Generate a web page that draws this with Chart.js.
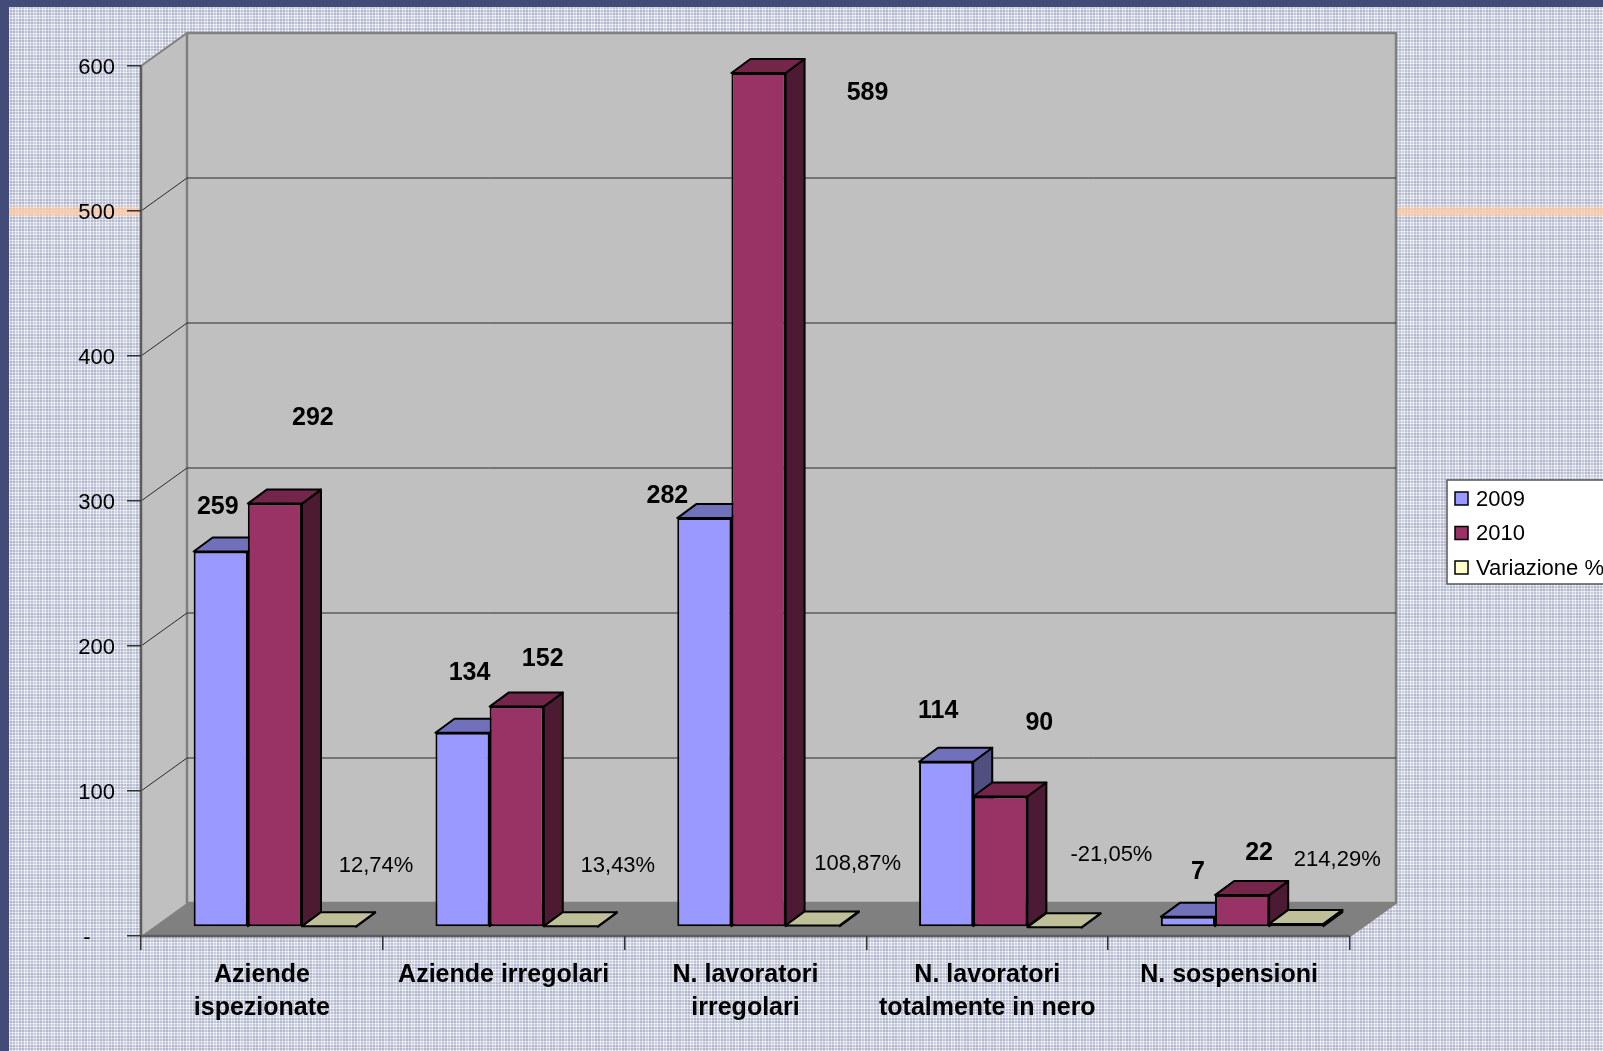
<!DOCTYPE html>
<html>
<head>
<meta charset="utf-8">
<title>Aziende ispezionate</title>
<script src="https://cdn.jsdelivr.net/npm/chart.js@4"></script>
<style>
  html, body { margin: 0; padding: 0; width: 1603px; height: 1051px; overflow: hidden; }
  body {
    position: relative;
    background-color: #fff;
    background-blend-mode: multiply;
    background-image:
      repeating-linear-gradient(90deg, #fff 0 1px, #d6d9e6 1px 3px, #f7f8fb 3px 4px, #d6d9e6 4px 6px, #fff 6px 7px, #e4e6ee 7px 9px),
      repeating-linear-gradient(0deg, #fff 0 1px, #d6d9e6 1px 3px, #f7f8fb 3px 4px, #d6d9e6 4px 6px, #fff 6px 7px, #e4e6ee 7px 9px);
  }
  .band { position: absolute; background: #434b79; }
  #top { left: 0; top: 0; width: 1603px; height: 7px; }
  #left { left: 0; top: 0; width: 9px; height: 1051px; }
  #orange {
    position: absolute; left: 9px; top: 206px; width: 1594px; height: 11px;
    background: linear-gradient(180deg, rgba(255,205,165,.2), rgba(255,205,165,.85) 35%, rgba(255,205,165,.85) 65%, rgba(255,205,165,.2));
  }
  canvas { position: absolute; left: 0; top: 0; }
</style>
</head>
<body>
<div id="orange"></div>
<div class="band" id="top"></div>
<div class="band" id="left"></div>
<canvas id="myChart" width="1603" height="1051"></canvas>
<script>
const categories = [
  ['Aziende', 'ispezionate'],
  'Aziende irregolari',
  ['N. lavoratori', 'irregolari'],
  ['N. lavoratori', 'totalmente in nero'],
  'N. sospensioni'
];
const values2009 = [259, 134, 282, 114, 7];
const values2010 = [292, 152, 589, 90, 22];
const variazione = [0.1274, 0.1343, 1.0887, -0.2105, 2.1429];
const variazioneLabels = ['12,74%', '13,43%', '108,87%', '-21,05%', '214,29%'];
const yTicks = [0, 100, 200, 300, 400, 500, 600];

// spostamento delle etichette rispetto alla cima della barra
const nudges = [
  [[-3, -44], [7, -60], [-37, -22], [-8, -51], [10, -45]],
  [[38, -85], [26, -47], [109, 20], [39, -73], [17, -42]],
  [[47, -61], [47, -61], [45, -61], [57, -72], [41, -64]]
];

const FONT = '"Liberation Sans", Arial, sans-serif';
const WALL = { dx: 46, dy: -33 };   // profondità del pavimento
const BAR = { dx: 19, dy: -14, shiftX: 13, shiftY: -9 };

const colors = [
  { front: '#9999ff', top: '#7070bb', side: '#4f4f80' },
  { front: '#993366', top: '#732649', side: '#4d1a33' },
  { front: '#ffffcc', top: '#bfbf99', side: '#808066' }
];

function poly(ctx, pts, fill, stroke, width) {
  ctx.beginPath();
  pts.forEach((p, i) => i ? ctx.lineTo(p[0], p[1]) : ctx.moveTo(p[0], p[1]));
  ctx.closePath();
  if (fill) { ctx.fillStyle = fill; ctx.fill(); }
  if (stroke) { ctx.strokeStyle = stroke; ctx.lineWidth = width; ctx.lineJoin = 'round'; ctx.stroke(); }
}

// pareti, pavimento e griglia in prospettiva
const walls = {
  id: 'walls',
  beforeDraw(chart) {
    const { ctx, chartArea: a, scales: { y } } = chart;
    const bx = WALL.dx, by = WALL.dy;
    ctx.save();
    poly(ctx, [[a.left, a.top], [a.left + bx, a.top + by], [a.left + bx, a.bottom + by], [a.left, a.bottom]], '#c0c0c0');
    poly(ctx, [[a.left + bx, a.top + by], [a.right + bx, a.top + by], [a.right + bx, a.bottom + by], [a.left + bx, a.bottom + by]], '#c0c0c0', '#808080', 2.5);
    poly(ctx, [[a.left, a.bottom], [a.right, a.bottom], [a.right + bx, a.bottom + by], [a.left + bx, a.bottom + by]], '#808080');
    yTicks.slice(1, -1).forEach(v => {
      const py = y.getPixelForValue(v);
      ctx.strokeStyle = '#2a2a2a';
      ctx.lineWidth = 1;
      ctx.beginPath();
      ctx.moveTo(a.left, py);
      ctx.lineTo(a.left + bx, py + by);
      ctx.lineTo(a.right + bx, py + by);
      ctx.stroke();
    });
    ctx.strokeStyle = '#808080';
    ctx.lineWidth = 2;
    ctx.beginPath();
    ctx.moveTo(a.left, a.top);
    ctx.lineTo(a.left + bx, a.top + by);
    ctx.moveTo(a.right, a.bottom);
    ctx.lineTo(a.right + bx, a.bottom + by);
    ctx.stroke();
    ctx.strokeStyle = '#5c5c5c';
    ctx.lineWidth = 2.5;
    ctx.beginPath();
    ctx.moveTo(a.left, a.top);
    ctx.lineTo(a.left, a.bottom);
    ctx.lineTo(a.right, a.bottom);
    ctx.stroke();
    ctx.restore();
  }
};

// barre 3D: il disegno nativo va fatto categoria per categoria, da sinistra a destra
const bars3d = {
  id: 'bars3d',
  beforeDatasetDraw() { return false; },
  afterDatasetsDraw(chart) {
    const ctx = chart.ctx;
    ctx.save();
    ctx.translate(BAR.shiftX, BAR.shiftY);
    categories.forEach((c, i) => {
      chart.data.datasets.forEach((ds, d) => {
        const el = chart.getDatasetMeta(d).data[i];
        const l = el.x - el.width / 2, r = el.x + el.width / 2;
        const t = Math.min(el.y, el.base), b = Math.max(el.y, el.base);
        el.draw(ctx);
        poly(ctx, [[r, t], [r + BAR.dx, t + BAR.dy], [r + BAR.dx, b + BAR.dy], [r, b]], colors[d].side, '#000', 2);
        poly(ctx, [[l, t], [l + BAR.dx, t + BAR.dy], [r + BAR.dx, t + BAR.dy], [r, t]], colors[d].top, '#000', 2);
      });
    });
    ctx.fillStyle = '#000';
    ctx.textAlign = 'center';
    ctx.textBaseline = 'middle';
    chart.data.datasets.forEach((ds, d) => {
      ctx.font = (d < 2 ? 'bold 25px ' : '22px ') + FONT;
      chart.getDatasetMeta(d).data.forEach((el, i) => {
        const text = d < 2 ? String(ds.data[i]) : variazioneLabels[i];
        ctx.fillText(text, el.x + nudges[d][i][0], el.y + nudges[d][i][1]);
      });
    });
    ctx.restore();
  }
};

// legenda in riquadro, tagliata dal bordo destro come nella diapositiva
const boxLegend = {
  id: 'boxLegend',
  afterDraw(chart) {
    const ctx = chart.ctx;
    ctx.save();
    ctx.fillStyle = '#fff';
    ctx.fillRect(1447, 480, 170, 104);
    ctx.strokeStyle = '#555';
    ctx.lineWidth = 1.5;
    ctx.strokeRect(1447, 480, 170, 104);
    ctx.font = '22px ' + FONT;
    ctx.textBaseline = 'middle';
    ctx.textAlign = 'left';
    chart.data.datasets.forEach((ds, d) => {
      const cy = 498.5 + d * 34.5;
      ctx.fillStyle = ds.backgroundColor;
      ctx.fillRect(1455, cy - 6.5, 13, 13);
      ctx.strokeStyle = '#000';
      ctx.lineWidth = 1.5;
      ctx.strokeRect(1455, cy - 6.5, 13, 13);
      ctx.fillStyle = '#000';
      ctx.fillText(ds.label, 1476, cy + 1);
    });
    ctx.restore();
  }
};

new Chart(document.getElementById('myChart').getContext('2d'), {
  type: 'bar',
  data: {
    labels: categories,
    datasets: [
      { label: '2009', data: values2009, backgroundColor: colors[0].front },
      { label: '2010', data: values2010, backgroundColor: colors[1].front },
      { label: 'Variazione %', data: variazione, backgroundColor: colors[2].front }
    ]
  },
  options: {
    responsive: false,
    animation: false,
    layout: { padding: { top: 66, right: 253, left: 0, bottom: 0 } },
    datasets: {
      bar: { categoryPercentage: 0.672, barPercentage: 1, borderColor: '#000', borderWidth: 2, borderSkipped: false }
    },
    plugins: { legend: { display: false }, tooltip: { enabled: false } },
    scales: {
      x: {
        afterFit(s) { s.height = 115; },
        border: { display: false },
        grid: { offset: true, drawOnChartArea: false, tickLength: 14, color: '#333', tickColor: '#333', lineWidth: 1.5 },
        ticks: {
          autoSkip: false,
          maxRotation: 0,
          padding: 9,
          color: '#000',
          font: { family: FONT, size: 25, weight: 'bold', lineHeight: 1.3 }
        }
      },
      y: {
        min: 0,
        max: 600,
        afterFit(s) { s.width = 141; },
        afterBuildTicks(s) { s.ticks = yTicks.map(v => ({ value: v })); },
        border: { display: false },
        grid: { drawOnChartArea: false, tickLength: 14, color: '#333', tickColor: '#333', lineWidth: 1.5 },
        ticks: {
          padding: 12,
          labelOffset: 2,
          color: '#000',
          font: { family: FONT, size: 22 },
          callback: v => (v === 0 ? '-\u00a0\u00a0\u00a0\u00a0' : String(v))
        }
      }
    }
  },
  plugins: [walls, bars3d, boxLegend]
});
</script>
</body>
</html>
